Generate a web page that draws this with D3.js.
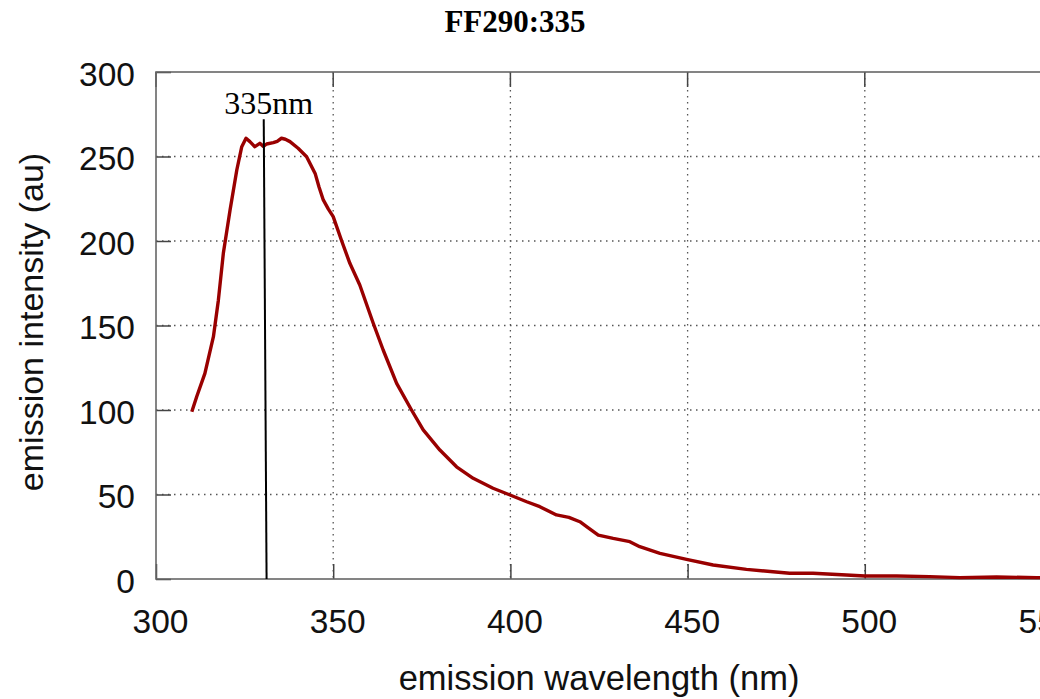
<!DOCTYPE html>
<html>
<head>
<meta charset="utf-8">
<script src="https://cdn.jsdelivr.net/npm/d3@7"></script>
<style>
  body { margin: 0; background: #fff; }
  svg { display: block; }
  .tick text { font-family: "Liberation Sans", Arial, sans-serif; font-size: 33.5px; fill: #111; }
</style>
</head>
<body>
<div id="chart"></div>
<script>
// emission spectrum
let wavelength = [310.1, 311.5, 313.8, 316.2, 317.6, 319, 320.9, 322.8, 324.2, 325.4, 326.5, 327.9,
  329.3, 330.3, 331.2, 333.1, 334.2, 335.4, 336.5, 337.8, 340.1, 342.5, 344.9, 346, 347.2, 348.6,
  350, 352.4, 354.7, 357.5, 361.3, 364.1, 367.9, 372.1, 375.4, 380.1, 384.8, 389.5, 395.1, 399.9,
  404.6, 408.3, 413, 416.5, 419.6, 421.5, 424.8, 429, 433.7, 436.5, 442.2, 449.7, 457.2, 466.6,
  474.1, 478.8, 485.4, 494.8, 500, 509, 518.3, 526.8, 537.2, 548.5, 550];
let intensity = [99, 108, 121.7, 143.4, 165, 192.7, 218.3, 242, 255.8, 260.8, 258.8, 255.8,
  257.8, 256, 257.4, 258.2, 259, 260.8, 260.2, 258.8, 254.9, 249.9, 240, 232, 224.3, 219,
  214.4, 200, 186.8, 174, 151.3, 135.5, 115.8, 100, 88.2, 76.3, 66.4, 59.6, 53.7, 49.7,
  45.7, 42.8, 37.9, 36.5, 33.9, 31, 26, 24, 22.1, 19.1, 15.2, 11.6, 8.3, 5.7,
  4.3, 3.4, 3.4, 2.4, 1.8, 1.8, 1.4, 0.8, 1.2, 0.8, 0.8];

let xTicks = [300, 350, 400, 450, 500, 550];
let yTicks = [0, 50, 100, 150, 200, 250, 300];

let chartTitle = "FF290:335";
let peakLabel = "335nm";
let peakLine = [{ x: 330.4, y: 272 }, { x: 331.2, y: 0 }];

let margin = { top: 72, right: 0, bottom: 120, left: 156 };
let width = 1040, height = 699;
let plotW = 886, plotH = 507;

var svg = d3.select("#chart").append("svg")
  .attr("width", width)
  .attr("height", height);

var xScale = d3.scaleLinear().domain([300, 550]).range([0, plotW]);
var yScale = d3.scaleLinear().domain([0, 300]).range([plotH, 0]);

var g = svg.append("g")
  .attr("transform", "translate(" + margin.left + "," + margin.top + ")");

// dotted grid
g.selectAll(".vgrid")
  .data(xTicks.slice(1, -1))
  .enter().append("line")
  .attr("x1", d => xScale(d)).attr("x2", d => xScale(d))
  .attr("y1", 0).attr("y2", plotH)
  .attr("stroke", "#555").attr("stroke-width", 1.3)
  .attr("stroke-dasharray", "1.5,4.5");

g.selectAll(".hgrid")
  .data(yTicks.slice(1, -1))
  .enter().append("line")
  .attr("x1", 0).attr("x2", plotW)
  .attr("y1", d => yScale(d)).attr("y2", d => yScale(d))
  .attr("stroke", "#555").attr("stroke-width", 1.3)
  .attr("stroke-dasharray", "1.5,4.5");

// axes with inward ticks
var xAxis = g.append("g")
  .attr("transform", "translate(0," + plotH + ")")
  .call(d3.axisBottom(xScale).tickValues(xTicks).tickSizeInner(-15).tickSizeOuter(0).tickPadding(30));
xAxis.select(".domain").remove();
xAxis.selectAll("text").attr("dx", 4);

var yAxis = g.append("g")
  .call(d3.axisLeft(yScale).tickValues(yTicks).tickSizeInner(-15).tickSizeOuter(0).tickPadding(21));
yAxis.select(".domain").remove();
yAxis.selectAll("text").attr("dy", "0.4em");

g.selectAll(".tick line").attr("stroke", "#444").attr("stroke-width", 1.5);

// top mirrored ticks
g.selectAll(".ttick")
  .data(xTicks)
  .enter().append("line")
  .attr("x1", d => xScale(d)).attr("x2", d => xScale(d))
  .attr("y1", 0).attr("y2", 15)
  .attr("stroke", "#444").attr("stroke-width", 1.5);

// frame
g.append("rect")
  .attr("width", plotW).attr("height", plotH)
  .attr("fill", "none").attr("stroke", "#666").attr("stroke-width", 1.6);

// spectrum
var line = d3.line()
  .x((d, i) => xScale(wavelength[i]))
  .y(d => yScale(d));

g.append("path")
  .datum(intensity)
  .attr("fill", "none")
  .attr("stroke", "#990000")
  .attr("stroke-width", 3.4)
  .attr("stroke-linejoin", "round")
  .attr("d", line);

// peak marker
g.append("line")
  .attr("x1", xScale(peakLine[0].x)).attr("y1", yScale(peakLine[0].y))
  .attr("x2", xScale(peakLine[1].x)).attr("y2", yScale(peakLine[1].y))
  .attr("stroke", "#000").attr("stroke-width", 2);

g.append("text")
  .attr("x", xScale(peakLine[0].x) + 5)
  .attr("y", yScale(peakLine[0].y) - 5)
  .attr("text-anchor", "middle")
  .style("font-family", "'Liberation Serif', 'Times New Roman', serif")
  .style("font-size", "32px")
  .text(peakLabel);

// titles
svg.append("text")
  .attr("x", 515).attr("y", 32)
  .attr("text-anchor", "middle")
  .style("font-family", "'Liberation Serif', 'Times New Roman', serif")
  .style("font-weight", "bold")
  .style("font-size", "31px")
  .text(chartTitle);

svg.append("text")
  .attr("x", 599).attr("y", 690)
  .attr("text-anchor", "middle")
  .style("font-family", "'Liberation Sans', Arial, sans-serif")
  .style("font-size", "34.5px")
  .attr("fill", "#111")
  .text("emission wavelength (nm)");

svg.append("text")
  .attr("transform", "translate(43," + (margin.top + 250) + ") rotate(-90)")
  .attr("text-anchor", "middle")
  .style("font-family", "'Liberation Sans', Arial, sans-serif")
  .style("font-size", "34px")
  .attr("fill", "#111")
  .text("emission intensity (au)");
</script>
</body>
</html>
